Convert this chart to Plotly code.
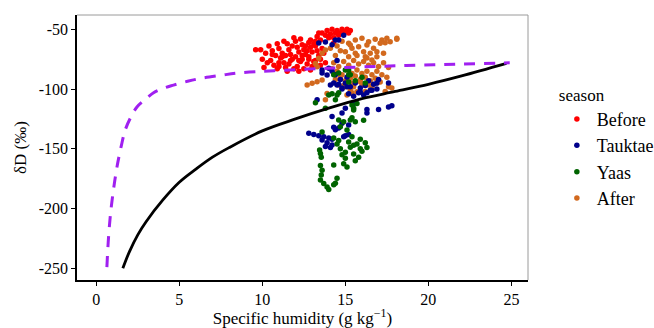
import plotly.graph_objects as go

# ---------------- data ----------------
before_x = [10.4,10.6,10.8,10.5,10.7,10.9,11.0,11.2,11.1,11.3,11.4,11.5,11.6,11.7,11.8,11.6,11.9,12.0,12.1,12.2,12.0,12.3,12.1,12.4,12.5,12.6,12.4,12.7,12.5,12.8,12.9,13.0,12.8,13.1,13.0,13.2,13.3,13.4,13.2,13.5,11.3,10.9,11.9,12.3,13.6,13.7,13.5,13.8,10.2,10.3,11.5,12.2,12.9,11.0,11.8,12.6,13.1,12.2,11.4,12.7,10.1,9.6,9.9,10.0,
            13.3,13.6,13.9,14.2,14.5,14.8,15.1,15.3,13.8,14.1,14.4,14.7,15.0,13.5,14.0,14.6,12.9,13.2,14.3,15.2,14.3,13.4,11.2,11.7,12.4,10.6,11.0,12.8]
before_y = [-64,-68,-72,-76,-80,-83,-66,-70,-74,-78,-82,-62,-67,-71,-75,-79,-83,-60,-65,-69,-73,-77,-81,-63,-67,-71,-75,-79,-83,-61,-65,-69,-73,-77,-81,-64,-68,-72,-76,-80,-60,-62,-57,-58,-66,-70,-75,-78,-70,-78,-85,-85,-84,-78,-64,-64,-62,-76,-72,-68,-82,-67,-67,-75,
            -56,-53,-51,-50,-51,-50,-50,-51,-55,-54,-53,-53,-52,-59,-57,-55,-59,-60,-57,-53,-61.5,-53,-73,-76,-72,-71,-81,-75]

tauktae_x = [13.4,13.8,14.4,14.9,14.6,14.2,14.5,13.6,14.0,13.6,13.9,
             14.4,14.7,15.0,15.3,15.6,15.9,16.2,16.5,14.8,15.2,15.5,15.8,16.1,16.4,16.7,14.6,15.1,14.2,17.0,16.9,
             14.5,14.8,15.1,15.9,16.3,16.6,16.9,17.6,
             16.3,16.3,17.0,17.6,17.8,15.5,15.0,14.8,
             14.8,15.2,14.6,14.4,14.9,15.2,15.0,
             12.8,13.1,13.4,13.7,14.0,14.2,14.2,14.3,14.1,14.3,13.3,
             13.6,13.9,14.2,13.8,14.1]
tauktae_y = [-61.5,-60.6,-59,-55,-59,-63,-76,-84,-82.5,-86.6,-88.2,
             -88,-92,-95,-98,-95,-99,-97,-101,-100,-104,-106,-103,-105,-93,-96,-96,-90,-85,-92,-100,
             -96.6,-99,-98,-102.5,-103,-101,-95,-95,
             -117,-120,-117,-115,-114,-112,-116,-120,
             -128.5,-130,-132.6,-134,-140,-138,-139,
             -137,-138,-139,-140,-141,-142,-123,-132,-96.6,-95,-109,
             -142.6,-145,-146.8,-148,-149]

yaas_x = [13.45,13.5,13.55,13.5,13.6,13.55,13.5,13.7,13.9,14.0,14.3,14.3,
          14.5,14.7,15.0,15.3,15.5,15.8,15.9,15.2,14.9,15.1,14.5,14.4,
          14.5,14.4,15.4,15.7,15.5,14.6,14.9,15.3,15.6,14.7,15.1,16.2,15.2,
          13.2,14.0,14.2,13.8,13.6,14.6,15.4,15.5,16.1,
          14.3,14.6,15.4,15.9,16.2,16.0,15.6,15.0,14.8,15.7,16.3,15.5,
          14.3,15.3,16.0,15.6,15.0,14.6,15.2,15.2]
yaas_y = [-151,-154,-157,-164,-168,-172,-176,-179,-182,-184,-180,-163.5,
          -145.9,-150,-152.9,-148.7,-154.3,-157,-150,-144.4,-162.5,-165.3,-174.7,-178.9,
          -105,-109,-113.4,-112,-117.5,-125.9,-127.3,-125.9,-127.3,-131.5,-134.3,-95,-94,
          -111.4,-105,-104,-116,-136,-103,-124,-116,-126,
          -141,-143,-140,-142,-145,-152,-160,-158,-155,-146,-149,-147,
          -88,-88,-90,-93,-84,-86.6,-84,-88]

after_x = [15.2,15.6,16.0,16.4,16.8,17.2,17.7,18.1,15.4,15.8,16.3,16.7,17.1,17.4,15.6,16.1,16.5,16.9,15.0,16.2,16.6,17.3,15.3,17.5,18.1,
           14.6,15.0,15.4,15.9,16.4,16.9,17.6,15.3,15.7,15.1,
           12.7,13.0,13.3,13.6,13.8,13.9,13.2,13.4,13.6,13.8,14.1,13.3,
           14.3,14.6,14.9,15.2,15.5,15.8,16.1,16.4,16.7,17.0,14.5,14.8,15.1,15.4,15.7,16.0,16.3,16.6,16.9,17.2,
           14.4,14.7,15.0,15.3,15.6,15.9,16.2,16.5,16.8,17.1,15.5,16.0,16.6,15.2,15.7,16.3,14.4,14.7,14.5,14.8,
           17.5,17.6,17.3,16.9,14.2,17.8,17.4,16.2,15.4,14.9]
after_y = [-61.7,-59,-57.5,-60.4,-58.4,-59,-60.4,-57.5,-65.9,-64.5,-63.1,-65.9,-61.7,-61.2,-70,-68.7,-70,-68.7,-68.7,-72.9,-75.7,-70,-63.1,-57.5,-58.4,
           -96.6,-98,-95.2,-93.8,-96.6,-95.2,-98,-100.8,-102.2,-105,
           -96.6,-95.2,-93.8,-92.4,-109,-103.6,-78.5,-74.3,-70,-67.3,-65.9,-81.3,
           -78,-81,-77,-80,-76,-79,-77,-80,-78,-81,-85,-88,-84,-87,-84,-87,-85,-88,-85,-88,
           -92,-90,-93,-91,-89,-92,-90,-93,-91,-94,-98,-97,-99,-73,-72,-74,-72,-68,-64,-60,
           -90,-82,-78,-73,-83,-99,-102,-102,-103,-97]

# model curves
rayleigh_x = [0.64,0.72,0.84,1.0,1.25,1.5,1.75,2.1,2.45,3.0,3.45,4.0,4.65,5.5,6.3,7.5,8.7,10.7,13.9,17.0,19.5,22.0,24.9]
rayleigh_y = [-249,-228,-207,-188,-165,-148,-134,-123,-115,-108,-103,-99.5,-96.7,-93.5,-91,-88.5,-86.3,-84.6,-82.6,-81,-80,-79,-78]

fit_x = [1.6,2.0,2.5,3.0,4.0,5.0,6.0,7.0,8.0,10.0,12.0,14.0,16.0,18.0,20.0,22.0,24.7]
fit_y = [-250,-236,-222,-211,-193,-178,-167,-157,-149,-135,-125,-116,-108,-102,-96,-89,-78.5]

season_names = ["Before", "Tauktae", "Yaas", "After"]
season_colors = ["#FF0000", "#00008B", "#006400", "#D2691E"]

x_ticks = [0, 5, 10, 15, 20, 25]
y_ticks = [-250, -200, -150, -100, -50]
y_ticktext = ["-250", "-200", "-150", "-100", "-50"]

# ---------------- figure ----------------
series = {
    "Before": (before_x, before_y),
    "Tauktae": (tauktae_x, tauktae_y),
    "Yaas": (yaas_x, yaas_y),
    "After": (after_x, after_y),
}
draw_order = ["Before", "After", "Tauktae", "Yaas"]

fig = go.Figure()
for name in draw_order:
    i = season_names.index(name)
    xs, ys = series[name]
    fig.add_trace(go.Scatter(
        x=xs, y=ys, mode="markers", name=name, legendrank=i + 1,
        marker=dict(color=season_colors[i], size=5.5, line=dict(width=0)),
    ))

fig.add_trace(go.Scatter(x=fit_x, y=fit_y, mode="lines", showlegend=False,
                         line=dict(color="black", width=2.8, shape="spline")))
fig.add_trace(go.Scatter(x=rayleigh_x, y=rayleigh_y, mode="lines", showlegend=False,
                         line=dict(color="#A020F0", width=3, dash="11px,9px", shape="spline")))

FF = '"Liberation Serif", "Times New Roman", "DejaVu Serif", serif'
fig.update_layout(
    width=654, height=328,
    margin=dict(l=77, r=126, t=15, b=48, autoexpand=False),
    paper_bgcolor="white", plot_bgcolor="white",
    font=dict(family=FF, color="black", size=16),
    showlegend=True,
    legend=dict(
        title=dict(text="season", font=dict(family=FF, size=17)),
        font=dict(family=FF, size=18),
        x=1.064, xanchor="left", y=0.76, yanchor="top",
        tracegroupgap=0, itemsizing="trace",
        bgcolor="rgba(0,0,0,0)",
    ),
    xaxis=dict(
        range=[-1.16, 26.0], tickvals=x_ticks, showgrid=False, zeroline=False,
        ticks="outside", ticklen=4, tickcolor="black", tickwidth=1,
        showline=True, linecolor="black", linewidth=1.5,
        tickfont=dict(family=FF, size=16),
        title=dict(text="Specific humidity (g kg<sup>−1</sup>)", font=dict(family=FF, size=17), standoff=4),
    ),
    yaxis=dict(
        range=[-259.8, -38.0], tickvals=y_ticks, ticktext=y_ticktext, showgrid=False, zeroline=False,
        ticks="outside", ticklen=4, tickcolor="black", tickwidth=1,
        showline=True, linecolor="black", linewidth=1.5,
        tickfont=dict(family=FF, size=16),
        title=dict(text="δD (‰)", font=dict(family=FF, size=17), standoff=8),
    ),
    shapes=[
        dict(type="line", xref="paper", yref="paper", x0=0, x1=1, y0=1, y1=1,
             line=dict(color="#9A9A9A", width=1)),
        dict(type="line", xref="paper", yref="paper", x0=1, x1=1, y0=0, y1=1,
             line=dict(color="#9A9A9A", width=1)),
    ],
)

fig.write_html("out.html")
